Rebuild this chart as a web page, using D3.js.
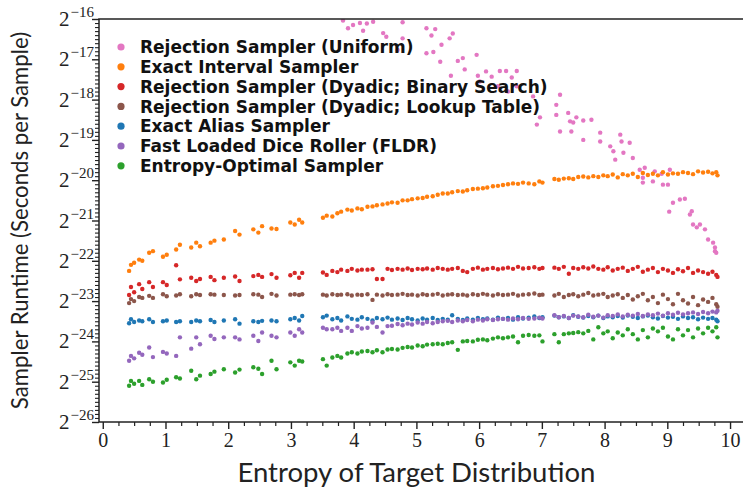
<!DOCTYPE html>
<html><head><meta charset="utf-8">
<script src="https://cdn.jsdelivr.net/npm/d3@7"></script>
<style>body{margin:0;background:#fff}svg{display:block}</style>
</head><body><svg id="c" width="743" height="491"></svg>
<script>
// Shared entropy values (x) of the target distributions
const entropy = [
  0.42,0.45,0.5,0.58,0.63,0.74,0.8,0.96,1.02,1.17,1.23,1.41,1.49,1.55,1.72,1.78,1.93,2.11,2.18,2.4,2.48,2.54,2.69,2.77,2.99,3.06,3.13,3.18,
  3.51,3.57,3.66,3.74,3.8,3.9,3.97,4.06,4.13,4.22,4.3,4.37,4.46,4.54,4.61,4.7,4.78,4.86,4.93,5.02,5.1,5.17,5.26,5.34,5.42,5.5,5.57,5.66,5.74,5.81,5.9,5.98,6.06,6.13,6.22,6.3,6.38,6.46,6.54,6.62,6.7,6.79,6.88,6.96,7.01,
  7.2,7.27,7.35,7.43,7.5,7.58,7.66,7.74,7.82,7.9,7.98,8.05,8.13,8.21,8.29,8.37,8.45,8.53,8.61,8.69,8.77,8.85,8.93,9.01,9.09,9.17,9.25,9.33,9.41,9.49,9.57,9.65,9.72,9.78,9.8
];
// Runtimes as log2(seconds per sample)
const exactInterval = [
  -22.25,-22.1,-22.05,-21.97,-22.0,-21.8,-21.76,-21.9,-21.85,-21.72,-21.6,-21.67,-21.55,-21.64,-21.55,-21.5,-21.47,-21.26,-21.35,-21.22,-21.3,-21.14,-21.2,-21.21,-21.05,-21.1,-20.98,-21.05,
  -20.93,-20.88,-20.9,-20.82,-20.78,-20.73,-20.75,-20.7,-20.72,-20.66,-20.65,-20.62,-20.6,-20.58,-20.55,-20.56,-20.5,-20.5,-20.47,-20.45,-20.44,-20.41,-20.4,-20.36,-20.33,-20.33,-20.3,-20.27,-20.28,-20.25,-20.22,-20.21,-20.2,-20.18,-20.15,-20.14,-20.12,-20.1,-20.08,-20.09,-20.06,-20.08,-20.1,-20.03,-20.06,
  -19.97,-19.99,-19.96,-19.95,-19.97,-19.92,-19.91,-19.93,-19.9,-19.92,-19.88,-19.9,-19.86,-19.93,-19.85,-19.88,-19.84,-19.92,-19.82,-19.87,-19.84,-19.88,-19.8,-19.86,-19.83,-19.84,-19.8,-19.82,-19.85,-19.78,-19.81,-19.79,-19.83,-19.8,-19.88
];
const dyadicBinary = [
  -22.85,-22.65,-22.78,-22.58,-22.7,-22.53,-22.65,-22.53,-22.6,-22.11,-22.46,-22.42,-22.5,-22.45,-22.4,-22.48,-22.42,-22.39,-22.5,-22.38,-22.35,-22.4,-22.33,-22.42,-22.36,-22.3,-22.42,-22.3,
  -22.29,-22.35,-22.25,-22.28,-22.22,-22.25,-22.2,-22.24,-22.22,-22.22,-22.21,-22.45,-22.45,-22.2,-22.23,-22.2,-22.22,-22.19,-22.23,-22.2,-22.21,-22.19,-22.22,-22.18,-22.2,-22.22,-22.2,-22.18,-22.25,-22.28,-22.2,-22.17,-22.22,-22.2,-22.18,-22.21,-22.19,-22.17,-22.2,-22.15,-22.19,-22.18,-22.16,-22.2,-22.18,
  -22.17,-22.2,-22.15,-22.32,-22.18,-22.2,-22.16,-22.19,-22.14,-22.2,-22.22,-22.16,-22.24,-22.2,-22.17,-22.25,-22.2,-22.15,-22.27,-22.22,-22.18,-22.28,-22.2,-22.24,-22.3,-22.21,-22.26,-22.18,-22.3,-22.24,-22.28,-22.32,-22.27,-22.35,-22.4
];
const dyadicLookup = [
  -23.05,-22.95,-23.0,-22.9,-22.92,-22.87,-22.92,-22.83,-22.88,-22.86,-22.83,-22.88,-22.83,-22.85,-22.83,-22.84,-22.85,-22.86,-22.85,-22.83,-22.84,-22.9,-22.82,-22.86,-22.84,-22.83,-22.85,-22.83,
  -22.84,-22.86,-22.83,-22.85,-22.84,-22.83,-22.86,-22.84,-22.85,-22.83,-22.97,-22.84,-22.86,-22.83,-22.85,-22.84,-22.82,-22.85,-22.84,-22.86,-22.83,-22.85,-22.84,-22.82,-22.86,-22.84,-22.83,-22.85,-22.84,-22.86,-22.83,-22.85,-22.82,-22.84,-22.86,-22.83,-22.85,-22.84,-22.82,-22.86,-22.84,-22.83,-22.81,-22.85,-22.84,
  -22.86,-22.82,-22.9,-22.85,-22.83,-22.88,-22.84,-22.8,-22.86,-22.84,-22.82,-22.9,-22.86,-22.83,-22.92,-22.85,-22.96,-22.88,-22.82,-22.98,-22.9,-23.05,-22.84,-22.95,-23.08,-22.82,-22.98,-23.06,-22.9,-23.1,-22.96,-23.02,-22.92,-23.08,-23.14
];
const exactAlias = [
  -23.55,-23.45,-23.52,-23.48,-23.5,-23.45,-23.52,-23.5,-23.48,-23.52,-23.5,-23.52,-23.48,-23.5,-23.47,-23.52,-23.48,-23.45,-23.56,-23.5,-23.52,-23.49,-23.48,-23.5,-23.45,-23.42,-23.48,-23.37,
  -23.4,-23.36,-23.45,-23.42,-23.48,-23.38,-23.44,-23.46,-23.4,-23.44,-23.48,-23.42,-23.45,-23.41,-23.46,-23.43,-23.47,-23.42,-23.45,-23.48,-23.43,-23.46,-23.42,-23.47,-23.44,-23.46,-23.35,-23.44,-23.47,-23.43,-23.46,-23.42,-23.45,-23.43,-23.46,-23.41,-23.44,-23.42,-23.46,-23.4,-23.43,-23.41,-23.38,-23.42,-23.4,
  -23.36,-23.4,-23.38,-23.42,-23.35,-23.39,-23.41,-23.37,-23.4,-23.36,-23.42,-23.38,-23.4,-23.37,-23.41,-23.36,-23.39,-23.42,-23.38,-23.36,-23.4,-23.43,-23.37,-23.41,-23.39,-23.44,-23.38,-23.42,-23.4,-23.45,-23.41,-23.44,-23.42,-23.46,-23.5
];
const fldr = [
  -24.48,-24.36,-24.42,-24.28,-24.33,-24.15,-24.39,-24.26,-24.3,-24.36,-23.9,-24.18,-23.9,-24.07,-23.86,-23.94,-23.9,-23.9,-23.95,-23.86,-23.99,-23.78,-23.86,-23.9,-23.78,-23.86,-23.7,-23.78,
  -23.66,-23.7,-23.7,-23.66,-23.74,-23.66,-23.74,-23.62,-23.68,-23.66,-23.53,-23.64,-23.78,-23.62,-23.61,-23.57,-23.6,-23.56,-23.58,-23.53,-23.56,-23.52,-23.55,-23.52,-23.5,-23.49,-23.52,-23.48,-23.5,-23.47,-23.5,-23.46,-23.48,-23.45,-23.47,-23.45,-23.44,-23.46,-23.43,-23.45,-23.42,-23.44,-23.43,-23.41,-23.43,
  -23.35,-23.4,-23.37,-23.42,-23.36,-23.38,-23.4,-23.34,-23.39,-23.36,-23.41,-23.35,-23.37,-23.33,-23.38,-23.34,-23.36,-23.32,-23.37,-23.33,-23.35,-23.31,-23.36,-23.3,-23.34,-23.29,-23.33,-23.3,-23.28,-23.32,-23.27,-23.3,-23.26,-23.28,-23.24
];
const entropyOptimal = [
  -25.1,-24.98,-25.05,-24.98,-25.08,-24.94,-25.0,-25.02,-24.95,-24.89,-24.92,-24.73,-24.94,-24.85,-24.81,-24.75,-24.69,-24.77,-24.7,-24.64,-24.68,-24.81,-24.48,-24.69,-24.52,-24.6,-24.48,-24.5,
  -24.44,-24.6,-24.4,-24.36,-24.4,-24.3,-24.27,-24.3,-24.25,-24.24,-24.27,-24.22,-24.27,-24.2,-24.19,-24.2,-24.16,-24.14,-24.15,-24.1,-24.12,-24.08,-24.07,-24.06,-24.07,-24.04,-24.02,-24.21,-24.0,-23.99,-24.0,-23.96,-23.95,-23.97,-23.93,-23.9,-23.92,-23.9,-23.88,-24.02,-23.86,-23.84,-23.86,-23.85,-24.0,
  -23.82,-24.02,-23.82,-23.8,-23.79,-23.77,-23.8,-23.74,-23.95,-23.65,-23.8,-23.75,-23.92,-23.78,-23.85,-23.7,-23.82,-23.95,-23.72,-23.9,-23.68,-23.75,-23.66,-23.88,-23.95,-23.7,-23.85,-23.72,-23.9,-23.68,-23.8,-23.66,-23.75,-23.65,-23.9
];
// Rejection sampler (uniform): only the points inside the plotted range
const uniformEntropy = [3.83,3.91,3.99,4.1,4.15,4.21,4.31,4.47,4.52,4.7,4.78,4.78,5.16,5.16,5.24,5.27,5.3,5.38,5.4,5.53,5.55,5.58,5.66,5.74,5.77,5.96,5.98,6.01,6.11,6.2,6.3,6.33,6.43,6.46,6.52,6.6,6.6,6.86,6.92,6.97,7.23,7.23,7.29,7.29,7.42,7.45,7.47,7.5,7.55,7.66,7.66,7.79,7.93,7.93,8.09,8.14,8.17,8.25,8.27,8.3,8.4,8.45,8.56,8.61,8.64,8.61,8.77,8.8,8.91,8.93,9.01,9.04,9.03,9.09,9.2,9.28,9.36,9.39,9.41,9.47,9.52,9.6,9.65,9.73,9.76,9.76,9.78];
const uniformRuntime = [-16.04,-16.23,-16.15,-16.1,-16.29,-16.11,-16.07,-16.35,-16.44,-16.77,-16.08,-16.48,-16.23,-16.85,-16.41,-16.82,-16.25,-17.06,-16.64,-16.48,-17.41,-16.36,-17.04,-16.97,-17.25,-16.89,-17.41,-17.55,-17.3,-17.43,-17.67,-17.29,-17.29,-17.8,-17.45,-17.29,-17.67,-17.92,-18.62,-18.44,-18.13,-18.38,-17.88,-18.79,-18.33,-18.54,-18.79,-18.57,-18.44,-18.52,-19.0,-18.5,-18.82,-19.04,-19.16,-19.28,-19.49,-18.87,-19.04,-19.32,-19.07,-19.45,-19.74,-20.06,-19.69,-19.94,-20.03,-19.78,-19.84,-20.11,-20.11,-19.74,-20.78,-20.56,-20.48,-20.46,-20.85,-20.77,-21.1,-21.17,-21.1,-21.22,-21.47,-21.55,-21.67,-21.76,-21.8];

const seriesNames = ["Rejection Sampler (Uniform)","Exact Interval Sampler","Rejection Sampler (Dyadic; Binary Search)","Rejection Sampler (Dyadic; Lookup Table)","Exact Alias Sampler","Fast Loaded Dice Roller (FLDR)","Entropy-Optimal Sampler"];
const seriesColors = ["#e377c2","#ff7f0e","#d62728","#8c564b","#1f77b4","#9467bd","#2ca02c"];
const xTicks = [0,1,2,3,4,5,6,7,8,9,10];
const yTickExps = [-26,-25,-24,-23,-22,-21,-20,-19,-18,-17,-16];

const series = [
  {x: uniformEntropy, e: uniformRuntime},
  {x: entropy, e: exactInterval},
  {x: entropy, e: dyadicBinary},
  {x: entropy, e: dyadicLookup},
  {x: entropy, e: exactAlias},
  {x: entropy, e: fldr},
  {x: entropy, e: entropyOptimal}
].map((s,i)=>({name: seriesNames[i], color: seriesColors[i], pts: s.x.map((v,j)=>({x:v, y:Math.pow(2, s.e[j])}))}));

const svg = d3.select("#c");
const L=99, R=752, T=19, B=422;
const x = d3.scaleLinear().domain([-0.06,10.35]).range([L,R]);
const y = d3.scaleLog().base(2).domain([Math.pow(2,-26),Math.pow(2,-16)]).range([B,T]);

svg.append("defs").append("clipPath").attr("id","clip")
  .append("rect").attr("x",L).attr("y",T).attr("width",R-L).attr("height",B-T);

// points
const pg = svg.append("g").attr("clip-path","url(#clip)");
series.forEach(s=>{
  pg.append("g").selectAll("circle").data(s.pts).join("circle")
    .attr("cx",d=>x(d.x)).attr("cy",d=>y(d.y)).attr("r",2.2).attr("fill",s.color);
});

// x axis
const minorX = d3.range(0,10.3,0.25).filter(v=>Math.abs(v-Math.round(v))>1e-6);
svg.append("g").attr("transform",`translate(0,${B})`)
  .call(d3.axisBottom(x).tickValues(minorX).tickSize(4).tickFormat(""))
  .call(g=>{g.select(".domain").remove(); g.selectAll("line").attr("stroke","#222").attr("stroke-width",1.2);});
const xa = svg.append("g").attr("transform",`translate(0,${B})`)
  .call(d3.axisBottom(x).tickValues(xTicks).tickSize(7).tickPadding(4).tickFormat(d3.format("d")));
xa.select(".domain").remove();
xa.selectAll("line").attr("stroke","#222").attr("stroke-width",1.4);
xa.selectAll("text").attr("font-family","'Liberation Serif', serif").attr("font-size",20).attr("fill","#222");

// y axis
const minorY = [];
for (let k=-26;k<-16;k++) for (let i=1;i<10;i++) minorY.push(Math.pow(2,k+i/10));
svg.append("g").attr("transform",`translate(${L},0)`)
  .call(d3.axisLeft(y).tickValues(minorY).tickSize(4).tickFormat(""))
  .call(g=>{g.select(".domain").remove(); g.selectAll("line").attr("stroke","#222").attr("stroke-width",1.1);});
const ya = svg.append("g").attr("transform",`translate(${L},0)`)
  .call(d3.axisLeft(y).tickValues(yTickExps.map(e=>Math.pow(2,e))).tickSize(7).tickFormat(""));
ya.select(".domain").remove();
ya.selectAll("line").attr("stroke","#222").attr("stroke-width",1.4);
const yl = svg.append("g");
yTickExps.forEach(e=>{
  const t = yl.append("text").attr("x",94).attr("y",y(Math.pow(2,e))+7)
    .attr("text-anchor","end").attr("font-family","'Liberation Serif', serif").attr("fill","#222");
  t.append("tspan").attr("font-size",21).text("2");
  t.append("tspan").attr("font-size",15).attr("dy",-9).attr("dx",1).text("\u2212"+Math.abs(e));
});

// frame
svg.append("rect").attr("x",L).attr("y",T).attr("width",R-L).attr("height",B-T)
  .attr("fill","none").attr("stroke","#222").attr("stroke-width",1.5);

// axis titles
svg.append("text").attr("x",x(5)).attr("y",482).attr("text-anchor","middle")
  .attr("font-family","Lato, sans-serif").attr("font-size",27.5).attr("fill","#222")
  .text("Entropy of Target Distribution");
svg.append("text").attr("transform",`translate(28,${(T+B)/2}) rotate(-90)`).attr("text-anchor","middle")
  .attr("font-family","Lato, sans-serif").attr("font-size",22.2).attr("fill","#222")
  .text("Sampler Runtime (Seconds per Sample)");

// legend
const lg = svg.append("g");
series.forEach((s,i)=>{
  const cy = 47 + i*19.8;
  lg.append("circle").attr("cx",121).attr("cy",cy).attr("r",3.6).attr("fill",s.color);
  lg.append("text").attr("x",140).attr("y",cy).attr("dy","0.36em")
    .attr("font-family","'DejaVu Sans', sans-serif").attr("font-weight","bold").attr("font-size",17).attr("fill","#111")
    .text(s.name);
});
</script></body></html>
